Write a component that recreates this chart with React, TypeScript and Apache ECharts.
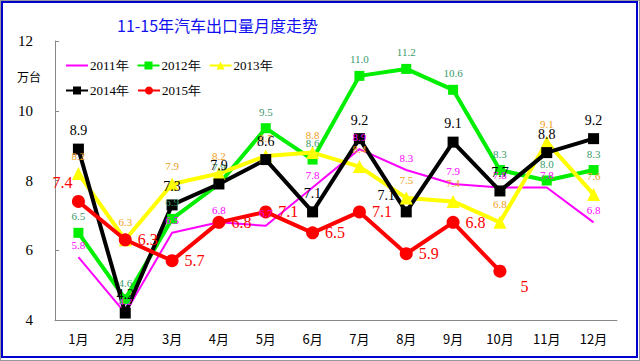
import React, { useEffect, useRef } from "react";
import * as echarts from "echarts";

const months = ["1月", "2月", "3月", "4月", "5月", "6月", "7月", "8月", "9月", "10月", "11月", "12月"];
const s2011 = [5.8, 4.2, 6.5, 6.8, 6.7, 7.8, 8.9, 8.3, 7.9, 7.8, 7.8, 6.8];
const s2012 = [6.5, 4.6, 6.9, 7.9, 9.5, 8.6, 11.0, 11.2, 10.6, 8.3, 8.0, 8.3];
const s2013 = [8.2, 6.3, 7.9, 8.2, 8.7, 8.8, 8.4, 7.5, 7.4, 6.8, 9.1, 7.6];
const s2014 = [8.9, 4.2, 7.3, 7.9, 8.6, 7.1, 9.2, 7.1, 9.1, 7.7, 8.8, 9.2];
const s2015 = [7.4, 6.3, 5.7, 6.8, 7.1, 6.5, 7.1, 5.9, 6.8, 5.4];
const s2015Labels = ["7.4", "6.3", "5.7", "6.8", "7.1", "6.5", "7.1", "5.9", "6.8", "5"];
const yTicks = [4, 6, 8, 10, 12];

const serif = "'Liberation Serif', 'DejaVu Serif', serif";
const cjk = "'Noto Sans CJK SC', sans-serif";

export default function App() {
  const ref = useRef<HTMLDivElement>(null);
  useEffect(() => {
    if (!ref.current) return;
    const chart = echarts.init(ref.current, null, { renderer: "svg" });
    const fmt1 = (p: any) => Number(p.value).toFixed(1);
    const smallLabel = (color: string) => ({
      show: true,
      position: "top",
      distance: 6,
      color,
      fontSize: 11,
      fontFamily: serif,
      formatter: fmt1,
    });
    const legendText = { fontSize: 13, fontFamily: serif, color: "#000", padding: [0, 0, 0, -3] };
    chart.setOption({
      animation: false,
      backgroundColor: "#ffffff",
      title: {
        text: "11-15年汽车出口量月度走势",
        left: 112,
        top: 12,
        textStyle: { color: "#1010f0", fontSize: 16, fontWeight: "normal", fontFamily: cjk },
      },
      graphic: [
        { type: "rect", shape: { x: 0.5, y: 0.5, width: 639, height: 360 }, style: { fill: "none", stroke: "#333", lineWidth: 1, lineDash: [1, 1] } },
        { type: "rect", shape: { x: 2, y: 2, width: 635, height: 355 }, style: { fill: "none", stroke: "#0000cc", lineWidth: 2 } },
        { type: "text", left: 17, top: 70, style: { text: "万台", fontSize: 12, fontFamily: cjk, fill: "#000" } },
      ],
      legend: [
        {
          left: 60,
          top: 54,
          itemWidth: 22,
          itemHeight: 10,
          itemGap: 8,
          data: ["2011年", "2012年", "2013年"],
          textStyle: legendText,
        },
        {
          left: 60,
          top: 79,
          itemWidth: 22,
          itemHeight: 10,
          itemGap: 8,
          data: ["2014年", "2015年"],
          textStyle: legendText,
        },
      ],
      grid: { left: 55, right: 23, top: 41, bottom: 41, containLabel: false },
      xAxis: {
        type: "category",
        data: months,
        boundaryGap: true,
        axisLine: { lineStyle: { color: "#888", width: 1 } },
        axisTick: { inside: true, length: 4, lineStyle: { color: "#888" } },
        axisLabel: { color: "#000", fontSize: 13, fontFamily: cjk, margin: 12 },
        splitLine: { show: false },
      },
      yAxis: {
        type: "value",
        min: yTicks[0],
        max: yTicks[yTicks.length - 1],
        interval: 2,
        axisLine: { show: true, lineStyle: { color: "#888", width: 1 } },
        axisTick: { show: true, inside: true, length: 4, lineStyle: { color: "#888" } },
        axisLabel: { color: "#000", fontSize: 15, fontFamily: serif, margin: 22 },
        splitLine: { show: false },
      },
      series: [
        {
          name: "2011年",
          type: "line",
          data: s2011,
          symbol: "circle",
          symbolSize: 2,
          showSymbol: true,
          color: "#ff00ff",
          itemStyle: { color: "rgba(255,0,255,0)", borderWidth: 0 },
          lineStyle: { width: 2, color: "#ff00ff" },
          label: smallLabel("#ff00ff"),
        },
        {
          name: "2012年",
          type: "line",
          data: s2012,
          symbol: "rect",
          symbolSize: 10,
          color: "#00ee00",
          itemStyle: { color: "#00ee00" },
          lineStyle: { width: 4, color: "#00ee00" },
          label: smallLabel("#3a9a6a"),
        },
        {
          name: "2013年",
          type: "line",
          data: s2013,
          symbol: "triangle",
          symbolSize: 13,
          color: "#ffff00",
          itemStyle: { color: "#ffff00" },
          lineStyle: { width: 4, color: "#ffff00" },
          label: smallLabel("#f0a020"),
        },
        {
          name: "2014年",
          type: "line",
          data: s2014.map((v, i) =>
            i === 7 ? { value: v, label: { offset: [-20, 2] } } : v
          ),
          symbol: "rect",
          symbolSize: 11,
          color: "#000000",
          itemStyle: { color: "#000000" },
          lineStyle: { width: 4, color: "#000000" },
          label: { show: true, position: "top", distance: 6, color: "#000", fontSize: 14, fontFamily: serif, formatter: fmt1 },
        },
        {
          name: "2015年",
          type: "line",
          data: s2015.map((v, i) => {
            if (i === 0) return { value: v, label: { position: "top", offset: [-16, 2] } };
            if (i === 9) return { value: v, label: { offset: [8, 15] } };
            return v;
          }),
          symbol: "circle",
          symbolSize: 13,
          color: "#ff0000",
          itemStyle: { color: "#ff0000" },
          lineStyle: { width: 4, color: "#ff0000" },
          label: {
            show: true,
            position: "right",
            distance: 6,
            color: "#ff0000",
            fontSize: 16,
            fontFamily: serif,
            formatter: (p: any) => s2015Labels[p.dataIndex],
          },
        },
      ],
    });
    return () => chart.dispose();
  }, []);
  return <div ref={ref} style={{ position: "fixed", left: 0, top: 0, width: 640, height: 361 }} />;
}
